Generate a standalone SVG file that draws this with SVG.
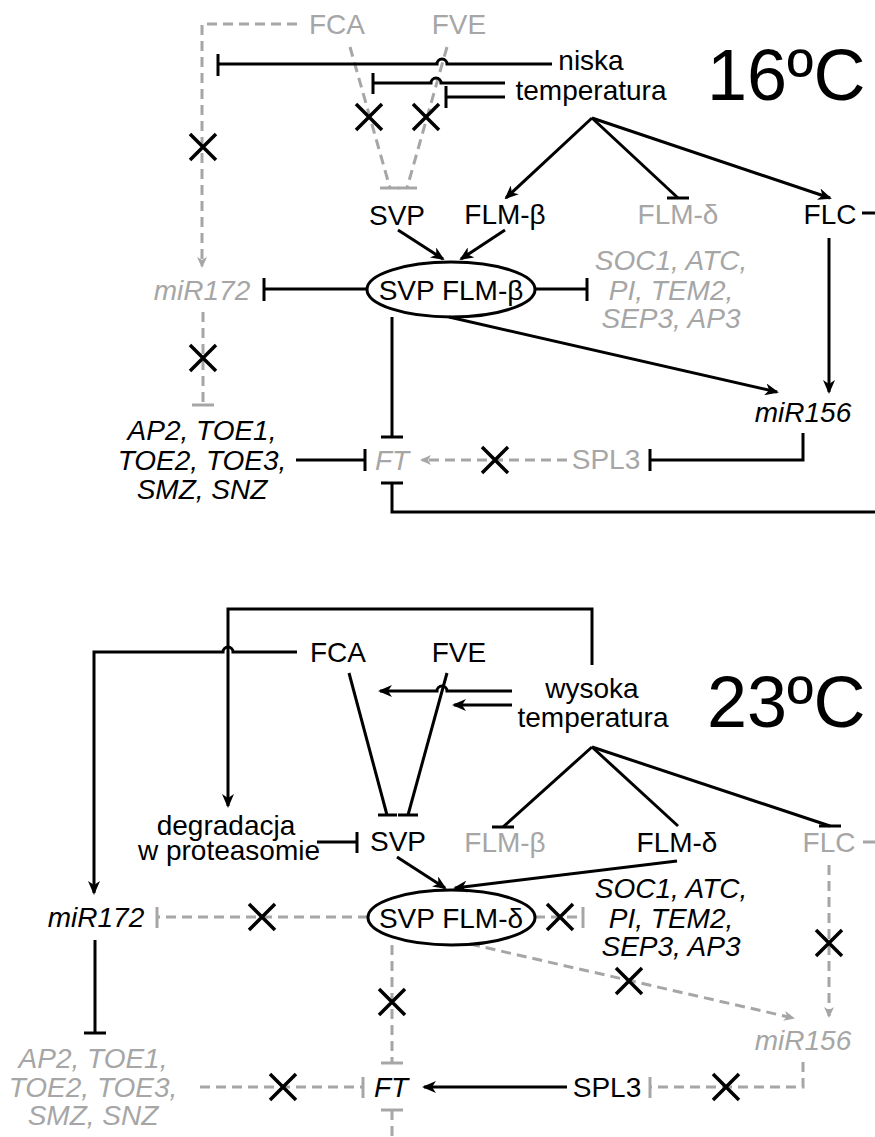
<svg xmlns="http://www.w3.org/2000/svg" width="875" height="1137" viewBox="0 0 875 1137">
<style>
text{font-family:"Liberation Sans",Arial,sans-serif;font-size:28px;fill:#000;text-anchor:middle}
.it{font-style:italic}
.gt{fill:#a6a6a6}
.big{font-size:72px;text-anchor:start}
.k{stroke:#000;stroke-width:3;fill:none}
.g{stroke:#a6a6a6;stroke-width:3;fill:none;stroke-dasharray:10 6}
.gs{stroke:#a6a6a6;stroke-width:3;fill:none}
.x{stroke:#000;stroke-width:3.5;fill:none}
.ka{marker-end:url(#ah)}
.ga{marker-end:url(#gah)}
</style>
<defs>
<marker id="ah" viewBox="0 0 14 12" refX="12" refY="6" markerWidth="14" markerHeight="12" markerUnits="userSpaceOnUse" orient="auto"><path d="M0,0 L14,6 L0,12 L4,6 z" fill="#000"/></marker>
<marker id="gah" viewBox="0 0 11 10" refX="9" refY="5" markerWidth="11" markerHeight="10" markerUnits="userSpaceOnUse" orient="auto"><path d="M0,0 L11,5 L0,10 L3,5 z" fill="#a6a6a6"/></marker>
<path id="xm" d="M-13,-13 L13,13 M13,-13 L-13,13" class="x"/>
</defs>

<g id="connectors">
<!-- top 16C -->
<path class="g ga" d="M297,24 H202 V266"/>
<path class="g" d="M203,312 V405"/>
<path class="gs" d="M192,405 H214"/>
<path class="g" d="M350,47 L390,188"/>
<path class="gs" d="M380,188 H399"/>
<path class="g" d="M447,47 L407,188"/>
<path class="gs" d="M398,188 H417"/>
<path class="k" d="M218,64 H437 A5,5 0 0 1 447,64 H552"/>
<path class="k" d="M218,54 V76"/>
<path class="k" d="M373,83 H431 A5,5 0 0 1 441,83 H505"/>
<path class="k" d="M373,73 V94"/>
<path class="k" d="M446,97 H505"/>
<path class="k" d="M446,86 V108"/>
<path class="k ka" d="M592,118 L506,198"/>
<path class="k" d="M592,118 L678,198"/>
<path class="k" d="M667,198 H689"/>
<path class="k ka" d="M592,118 L830,198"/>
<path class="k ka" d="M398,230 L443,259"/>
<path class="k ka" d="M505,230 L461,259"/>
<path class="k" d="M367,289 H264"/>
<path class="k" d="M264,278 V301"/>
<path class="k" d="M535,289 H587"/>
<path class="k" d="M587,278 V301"/>
<path class="k ka" d="M449,317 L777,392"/>
<path class="k" d="M392,317 V437"/>
<path class="k" d="M381,437 H403"/>
<path class="k ka" d="M829,238 V392"/>
<path class="k" d="M862,213 H875"/>
<path class="k" d="M296,460 H365"/>
<path class="k" d="M365,449 V471"/>
<path class="g ga" d="M567,460 H422"/>
<path class="k" d="M803,433 V460 H650"/>
<path class="k" d="M650,449 V471"/>
<path class="k" d="M875,512 H392 V483"/>
<path class="k" d="M381,483 H403"/>
<use href="#xm" x="203" y="147"/>
<use href="#xm" x="203" y="358"/>
<use href="#xm" x="369" y="117"/>
<use href="#xm" x="426" y="117"/>
<use href="#xm" x="495" y="460"/>

<!-- bottom 23C -->
<path class="k ka" d="M592,665 V609 H228 V806"/>
<path class="k ka" d="M297,652 H233 A5,5 0 0 0 223,652 H94 V893"/>
<path class="k" d="M349,673 L387,815"/>
<path class="k" d="M378,815 H397"/>
<path class="k" d="M447,673 L408,815"/>
<path class="k" d="M398,815 H418"/>
<path class="k ka" d="M512,691 H447 A5,5 0 0 0 437,691 H380"/>
<path class="k ka" d="M512,705 H454"/>
<path class="k" d="M592,747 L503,827"/>
<path class="k" d="M492,827 H514"/>
<path class="k" d="M592,747 L678,826"/>
<path class="k" d="M592,747 L830,826"/>
<path class="k" d="M819,826 H841"/>
<path class="k" d="M317,842 H357"/>
<path class="k" d="M357,832 V853"/>
<path class="k ka" d="M397,857 L445,888"/>
<path class="k ka" d="M677,861 L455,888"/>
<path class="g" d="M368,917 H157"/>
<path class="gs" d="M157,907 V928"/>
<path class="g" d="M535,917 H583"/>
<path class="gs" d="M583,907 V928"/>
<path class="g ga" d="M470,944 L793,1018"/>
<path class="g" d="M392,945 V1063"/>
<path class="gs" d="M381,1063 H403"/>
<path class="gs" d="M381,1110 H403"/>
<path class="g" d="M392,1110 V1137"/>
<path class="g" d="M200,1087 H363"/>
<path class="gs" d="M363,1077 V1098"/>
<path class="k ka" d="M567,1087 H424"/>
<path class="g" d="M803,1062 V1087 H650"/>
<path class="gs" d="M650,1077 V1098"/>
<path class="g ga" d="M829,865 V1016"/>
<path class="gs" d="M863,842 H875"/>
<path class="k" d="M95,940 V1033"/>
<path class="k" d="M84,1033 H106"/>
<use href="#xm" x="262" y="917"/>
<use href="#xm" x="560" y="917"/>
<use href="#xm" x="629" y="981"/>
<use href="#xm" x="392" y="1002"/>
<use href="#xm" x="283" y="1087"/>
<use href="#xm" x="726" y="1087"/>
<use href="#xm" x="829" y="943"/>
</g>

<!-- top nodes -->
<g id="t-fca"><text class="gt" x="337" y="34">FCA</text></g>
<g id="t-fve"><text class="gt" x="459" y="34">FVE</text></g>
<g id="t-temp"><text x="591" y="70">niska</text><text x="591" y="100">temperatura</text></g>
<g id="t-title"><text class="big" x="707" y="100">16ºC</text></g>
<g id="t-svp"><text x="397" y="225">SVP</text></g>
<g id="t-flmb"><text x="505" y="224">FLM-β</text></g>
<g id="t-flmd"><text class="gt" x="678" y="224">FLM-δ</text></g>
<g id="t-flc"><text x="830" y="224">FLC</text></g>
<g id="t-mir172"><text class="it gt" x="202" y="300">miR172</text></g>
<g id="t-complex"><ellipse cx="451" cy="289.5" rx="84" ry="27.5" class="k"/><text x="451" y="300">SVP FLM-β</text></g>
<g id="t-soc1"><text class="it gt" x="671" y="270">SOC1, ATC,</text><text class="it gt" x="671" y="300">PI, TEM2,</text><text class="it gt" x="671" y="328">SEP3, AP3</text></g>
<g id="t-ap2"><text class="it" x="202" y="440">AP2, TOE1,</text><text class="it" x="202" y="470">TOE2, TOE3,</text><text class="it" x="202" y="499">SMZ, SNZ</text></g>
<g id="t-ft"><text class="it gt" x="392" y="470">FT</text></g>
<g id="t-spl3"><text class="gt" x="606" y="469">SPL3</text></g>
<g id="t-mir156"><text class="it" x="803" y="422">miR156</text></g>

<!-- bottom nodes -->
<g id="b-fca"><text x="338" y="662">FCA</text></g>
<g id="b-fve"><text x="459" y="662">FVE</text></g>
<g id="b-temp"><text x="592" y="698">wysoka</text><text x="593" y="727">temperatura</text></g>
<g id="b-title"><text class="big" x="707" y="727">23ºC</text></g>
<g id="b-degr"><text x="226" y="835">degradacja</text><text x="229" y="860">w proteasomie</text></g>
<g id="b-svp"><text x="398" y="851">SVP</text></g>
<g id="b-flmb"><text class="gt" x="505" y="852">FLM-β</text></g>
<g id="b-flmd"><text x="677" y="852">FLM-δ</text></g>
<g id="b-flc"><text class="gt" x="829" y="852">FLC</text></g>
<g id="b-mir172"><text class="it" x="96" y="927">miR172</text></g>
<g id="b-complex"><ellipse cx="451.5" cy="917.5" rx="83.5" ry="27.5" class="k"/><text x="451" y="928">SVP FLM-δ</text></g>
<g id="b-soc1"><text class="it" x="671" y="898">SOC1, ATC,</text><text class="it" x="671" y="928">PI, TEM2,</text><text class="it" x="671" y="956">SEP3, AP3</text></g>
<g id="b-ap2"><text class="it gt" x="93" y="1068">AP2, TOE1,</text><text class="it gt" x="93" y="1097">TOE2, TOE3,</text><text class="it gt" x="93" y="1125">SMZ, SNZ</text></g>
<g id="b-ft"><text class="it" x="391" y="1097">FT</text></g>
<g id="b-spl3"><text x="607" y="1097">SPL3</text></g>
<g id="b-mir156"><text class="it gt" x="803" y="1050">miR156</text></g>
</svg>
